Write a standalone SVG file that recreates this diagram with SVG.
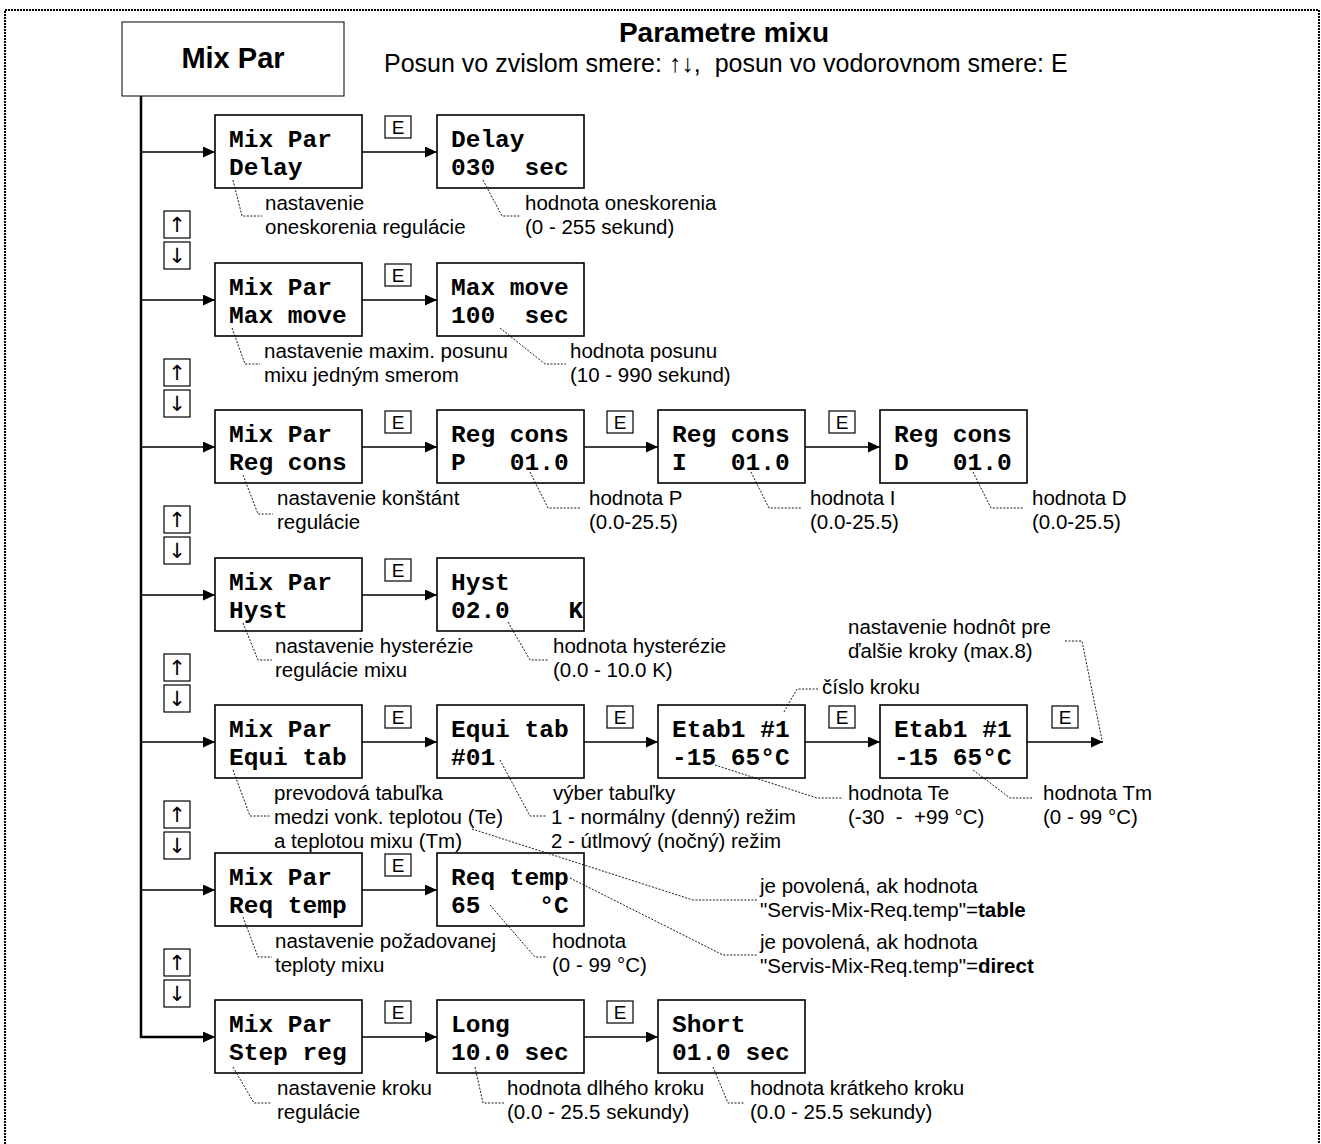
<svg xmlns="http://www.w3.org/2000/svg" width="1321" height="1144" viewBox="0 0 1321 1144">
<style>
.bg{fill:#fff}
.frame{fill:none;stroke:#000;stroke-width:2;stroke-dasharray:2 1}
.box{fill:#fff;stroke:#000;stroke-width:1.6}
.tbox{fill:#fff;stroke:#000;stroke-width:1}
.kbox{fill:#fff;stroke:#000;stroke-width:1.2}
.mono{font-family:"Liberation Mono","Courier New",monospace;font-weight:bold;font-size:24.5px;white-space:pre}
.lbl{font-family:"Liberation Sans",Arial,sans-serif;font-size:20.5px}
.key{font-family:"Liberation Sans",Arial,sans-serif;font-size:19px;text-anchor:middle}
.arr{font-family:"DejaVu Sans",sans-serif;font-size:21px;text-anchor:middle}
.conn{fill:none;stroke:#000;stroke-width:1.3}
.trunk{fill:none;stroke:#000;stroke-width:2.5}
.lead{fill:none;stroke:#000;stroke-width:0.9;stroke-dasharray:2 1.5}
</style>
<defs>
<marker id="ah" markerUnits="userSpaceOnUse" markerWidth="13" markerHeight="11" refX="12" refY="5.5" orient="auto">
<path d="M0,0 L12,5.5 L0,11 Z" fill="#000"/>
</marker>
</defs>
<rect class="bg" x="0" y="0" width="1321" height="1144"/>
<path class="frame" d="M5,1144 V10 H1319 V1144"/>

<g id="header">
<text x="724" y="42" font-family="Liberation Sans,Arial,sans-serif" font-weight="bold" font-size="28" text-anchor="middle">Parametre mixu</text>
<text x="384" y="72" font-family="Liberation Sans,Arial,sans-serif" font-size="25" xml:space="preserve">Posun vo zvislom smere: ↑↓,  posun vo vodorovnom smere: E</text>
</g>

<g id="title">
<rect class="tbox" x="122" y="22" width="222" height="74"/>
<text x="233" y="68" font-family="Liberation Sans,Arial,sans-serif" font-weight="bold" font-size="29" text-anchor="middle">Mix Par</text>
</g>

<g id="connectors">
<path class="trunk" d="M141,96 V1037 H213"/>
<path class="conn" d="M141,1037 H215" marker-end="url(#ah)"/>
<path class="conn" d="M141,152 H215" marker-end="url(#ah)"/>
<path class="conn" d="M141,300 H215" marker-end="url(#ah)"/>
<path class="conn" d="M141,447 H215" marker-end="url(#ah)"/>
<path class="conn" d="M141,595 H215" marker-end="url(#ah)"/>
<path class="conn" d="M141,742 H215" marker-end="url(#ah)"/>
<path class="conn" d="M141,890 H215" marker-end="url(#ah)"/>
<path class="conn" d="M362,152 H437" marker-end="url(#ah)"/>
<path class="conn" d="M362,300 H437" marker-end="url(#ah)"/>
<path class="conn" d="M362,447 H437" marker-end="url(#ah)"/>
<path class="conn" d="M584,447 H658" marker-end="url(#ah)"/>
<path class="conn" d="M805,447 H880" marker-end="url(#ah)"/>
<path class="conn" d="M362,595 H437" marker-end="url(#ah)"/>
<path class="conn" d="M362,742 H437" marker-end="url(#ah)"/>
<path class="conn" d="M584,742 H658" marker-end="url(#ah)"/>
<path class="conn" d="M805,742 H880" marker-end="url(#ah)"/>
<path class="conn" d="M1027,742 H1103" marker-end="url(#ah)"/>
<path class="conn" d="M362,890 H437" marker-end="url(#ah)"/>
<path class="conn" d="M362,1037 H437" marker-end="url(#ah)"/>
<path class="conn" d="M584,1037 H658" marker-end="url(#ah)"/>
</g>

<g id="keys">
<rect class="kbox" x="385" y="116" width="26" height="22"/><text class="key" x="398" y="134">E</text>
<rect class="kbox" x="385" y="264" width="26" height="22"/><text class="key" x="398" y="282">E</text>
<rect class="kbox" x="385" y="411" width="26" height="22"/><text class="key" x="398" y="429">E</text>
<rect class="kbox" x="607" y="411" width="26" height="22"/><text class="key" x="620" y="429">E</text>
<rect class="kbox" x="829" y="411" width="26" height="22"/><text class="key" x="842" y="429">E</text>
<rect class="kbox" x="385" y="559" width="26" height="22"/><text class="key" x="398" y="577">E</text>
<rect class="kbox" x="385" y="706" width="26" height="22"/><text class="key" x="398" y="724">E</text>
<rect class="kbox" x="607" y="706" width="26" height="22"/><text class="key" x="620" y="724">E</text>
<rect class="kbox" x="829" y="706" width="26" height="22"/><text class="key" x="842" y="724">E</text>
<rect class="kbox" x="1052" y="706" width="26" height="22"/><text class="key" x="1065" y="724">E</text>
<rect class="kbox" x="385" y="854" width="26" height="22"/><text class="key" x="398" y="872">E</text>
<rect class="kbox" x="385" y="1001" width="26" height="22"/><text class="key" x="398" y="1019">E</text>
<rect class="kbox" x="607" y="1001" width="26" height="22"/><text class="key" x="620" y="1019">E</text>
</g>

<g id="updown">
<rect class="kbox" x="164" y="211" width="26" height="27"/><text class="arr" x="177" y="232">↑</text>
<rect class="kbox" x="164" y="242" width="26" height="27"/><text class="arr" x="177" y="263">↓</text>
<rect class="kbox" x="164" y="359" width="26" height="27"/><text class="arr" x="177" y="380">↑</text>
<rect class="kbox" x="164" y="390" width="26" height="27"/><text class="arr" x="177" y="411">↓</text>
<rect class="kbox" x="164" y="506" width="26" height="27"/><text class="arr" x="177" y="527">↑</text>
<rect class="kbox" x="164" y="537" width="26" height="27"/><text class="arr" x="177" y="558">↓</text>
<rect class="kbox" x="164" y="654" width="26" height="27"/><text class="arr" x="177" y="675">↑</text>
<rect class="kbox" x="164" y="685" width="26" height="27"/><text class="arr" x="177" y="706">↓</text>
<rect class="kbox" x="164" y="801" width="26" height="27"/><text class="arr" x="177" y="822">↑</text>
<rect class="kbox" x="164" y="832" width="26" height="27"/><text class="arr" x="177" y="853">↓</text>
<rect class="kbox" x="164" y="949" width="26" height="27"/><text class="arr" x="177" y="970">↑</text>
<rect class="kbox" x="164" y="980" width="26" height="27"/><text class="arr" x="177" y="1001">↓</text>
</g>

<g id="n-delay">
<rect class="box" x="215" y="115" width="147" height="73"/>
<text class="mono" x="229" y="147">Mix Par</text><text class="mono" x="229" y="175">Delay</text>
</g>
<g id="n-delay-val">
<rect class="box" x="437" y="115" width="147" height="73"/>
<text class="mono" x="451" y="147">Delay</text><text class="mono" x="451" y="175">030  sec</text>
</g>
<g id="n-maxmove">
<rect class="box" x="215" y="263" width="147" height="73"/>
<text class="mono" x="229" y="295">Mix Par</text><text class="mono" x="229" y="323">Max move</text>
</g>
<g id="n-maxmove-val">
<rect class="box" x="437" y="263" width="147" height="73"/>
<text class="mono" x="451" y="295">Max move</text><text class="mono" x="451" y="323">100  sec</text>
</g>
<g id="n-regcons">
<rect class="box" x="215" y="410" width="147" height="73"/>
<text class="mono" x="229" y="442">Mix Par</text><text class="mono" x="229" y="470">Reg cons</text>
</g>
<g id="n-regcons-p">
<rect class="box" x="437" y="410" width="147" height="73"/>
<text class="mono" x="451" y="442">Reg cons</text><text class="mono" x="451" y="470">P   01.0</text>
</g>
<g id="n-regcons-i">
<rect class="box" x="658" y="410" width="147" height="73"/>
<text class="mono" x="672" y="442">Reg cons</text><text class="mono" x="672" y="470">I   01.0</text>
</g>
<g id="n-regcons-d">
<rect class="box" x="880" y="410" width="147" height="73"/>
<text class="mono" x="894" y="442">Reg cons</text><text class="mono" x="894" y="470">D   01.0</text>
</g>
<g id="n-hyst">
<rect class="box" x="215" y="558" width="147" height="73"/>
<text class="mono" x="229" y="590">Mix Par</text><text class="mono" x="229" y="618">Hyst</text>
</g>
<g id="n-hyst-val">
<rect class="box" x="437" y="558" width="147" height="73"/>
<text class="mono" x="451" y="590">Hyst</text><text class="mono" x="451" y="618">02.0    K</text>
</g>
<g id="n-equitab">
<rect class="box" x="215" y="705" width="147" height="73"/>
<text class="mono" x="229" y="737">Mix Par</text><text class="mono" x="229" y="765">Equi tab</text>
</g>
<g id="n-equitab-val">
<rect class="box" x="437" y="705" width="147" height="73"/>
<text class="mono" x="451" y="737">Equi tab</text><text class="mono" x="451" y="765">#01</text>
</g>
<g id="n-etab-te">
<rect class="box" x="658" y="705" width="147" height="73"/>
<text class="mono" x="672" y="737">Etab1 #1</text><text class="mono" x="672" y="765">-15 65°C</text>
</g>
<g id="n-etab-tm">
<rect class="box" x="880" y="705" width="147" height="73"/>
<text class="mono" x="894" y="737">Etab1 #1</text><text class="mono" x="894" y="765">-15 65°C</text>
</g>
<g id="n-reqtemp">
<rect class="box" x="215" y="853" width="147" height="73"/>
<text class="mono" x="229" y="885">Mix Par</text><text class="mono" x="229" y="913">Req temp</text>
</g>
<g id="n-reqtemp-val">
<rect class="box" x="437" y="853" width="147" height="73"/>
<text class="mono" x="451" y="885">Req temp</text><text class="mono" x="451" y="913">65    °C</text>
</g>
<g id="n-stepreg">
<rect class="box" x="215" y="1000" width="147" height="73"/>
<text class="mono" x="229" y="1032">Mix Par</text><text class="mono" x="229" y="1060">Step reg</text>
</g>
<g id="n-long">
<rect class="box" x="437" y="1000" width="147" height="73"/>
<text class="mono" x="451" y="1032">Long</text><text class="mono" x="451" y="1060">10.0 sec</text>
</g>
<g id="n-short">
<rect class="box" x="658" y="1000" width="147" height="73"/>
<text class="mono" x="672" y="1032">Short</text><text class="mono" x="672" y="1060">01.0 sec</text>
</g>

<g id="leaders">
<path class="lead" d="M233,180 L242,216 H262"/>
<path class="lead" d="M483,180 L502,216 H521"/>
<path class="lead" d="M232,328 L245,364 H260"/>
<path class="lead" d="M500,328 L545,364 H566"/>
<path class="lead" d="M243,475 L258,514 H273"/>
<path class="lead" d="M530,472 L548,508 H581"/>
<path class="lead" d="M751,472 L769,508 H802"/>
<path class="lead" d="M973,472 L991,508 H1024"/>
<path class="lead" d="M243,623 L258,660 H272"/>
<path class="lead" d="M508,622 L530,660 H548"/>
<path class="lead" d="M233,770 L250,816 H271"/>
<path class="lead" d="M500,760 L530,816 H546"/>
<path class="lead" d="M715,765 L817,798 H843"/>
<path class="lead" d="M973,770 L1010,798 H1033"/>
<path class="lead" d="M784,712 L797,689 H818"/>
<path class="lead" d="M1065,641 H1082 L1102,740"/>
<path class="lead" d="M472,829 L693,900 H757"/>
<path class="lead" d="M570,878 L723,955 H757"/>
<path class="lead" d="M243,917 L258,957 H272"/>
<path class="lead" d="M490,905 L535,957 H547"/>
<path class="lead" d="M233,1067 L254,1103 H271"/>
<path class="lead" d="M475,1067 L483,1103 H504"/>
<path class="lead" d="M713,1067 L728,1103 H745"/>
</g>

<g id="labels" class="lbl">
<text x="265" y="210">nastavenie</text>
<text x="265" y="234">oneskorenia regulácie</text>
<text x="525" y="210">hodnota oneskorenia</text>
<text x="525" y="234">(0 - 255 sekund)</text>
<text x="264" y="358">nastavenie maxim. posunu</text>
<text x="264" y="382">mixu jedným smerom</text>
<text x="570" y="358">hodnota posunu</text>
<text x="570" y="382">(10 - 990 sekund)</text>
<text x="277" y="505">nastavenie konštánt</text>
<text x="277" y="529">regulácie</text>
<text x="589" y="505">hodnota P</text>
<text x="589" y="529">(0.0-25.5)</text>
<text x="810" y="505">hodnota I</text>
<text x="810" y="529">(0.0-25.5)</text>
<text x="1032" y="505">hodnota D</text>
<text x="1032" y="529">(0.0-25.5)</text>
<text x="275" y="653">nastavenie hysterézie</text>
<text x="275" y="677">regulácie mixu</text>
<text x="553" y="653">hodnota hysterézie</text>
<text x="553" y="677">(0.0 - 10.0 K)</text>
<text x="848" y="634">nastavenie hodnôt pre</text>
<text x="848" y="658">ďalšie kroky (max.8)</text>
<text x="822" y="694">číslo kroku</text>
<text x="274" y="800">prevodová tabuľka</text>
<text x="274" y="824">medzi vonk. teplotou (Te)</text>
<text x="274" y="848">a teplotou mixu (Tm)</text>
<text x="553" y="800">výber tabuľky</text>
<text x="551" y="824">1 - normálny (denný) režim</text>
<text x="551" y="848">2 - útlmový (nočný) režim</text>
<text x="848" y="800">hodnota Te</text>
<text x="848" y="824" xml:space="preserve">(-30  -  +99 °C)</text>
<text x="1043" y="800">hodnota Tm</text>
<text x="1043" y="824">(0 - 99 °C)</text>
<text x="760" y="893">je povolená, ak hodnota</text>
<text x="760" y="917">"Servis-Mix-Req.temp"=<tspan font-weight="bold">table</tspan></text>
<text x="275" y="948">nastavenie požadovanej</text>
<text x="275" y="972">teploty mixu</text>
<text x="552" y="948">hodnota</text>
<text x="552" y="972">(0 - 99 °C)</text>
<text x="760" y="949">je povolená, ak hodnota</text>
<text x="760" y="973">"Servis-Mix-Req.temp"=<tspan font-weight="bold">direct</tspan></text>
<text x="277" y="1095">nastavenie kroku</text>
<text x="277" y="1119">regulácie</text>
<text x="507" y="1095">hodnota dlhého kroku</text>
<text x="507" y="1119">(0.0 - 25.5 sekundy)</text>
<text x="750" y="1095">hodnota krátkeho kroku</text>
<text x="750" y="1119">(0.0 - 25.5 sekundy)</text>
</g>
</svg>
